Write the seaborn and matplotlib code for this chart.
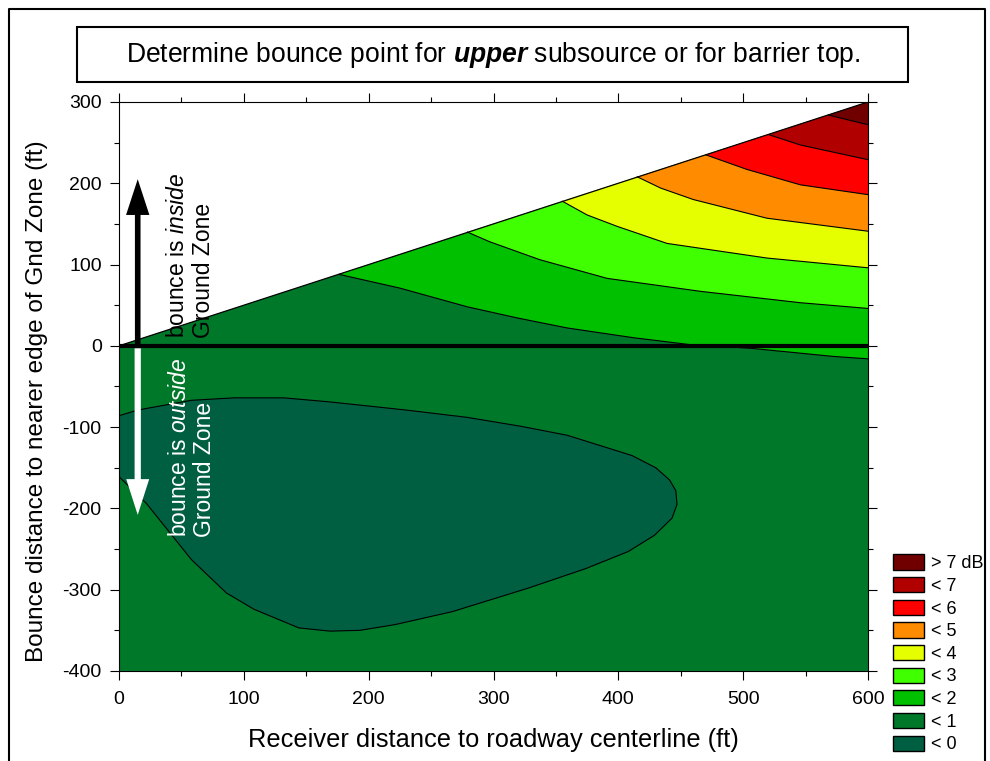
import matplotlib
matplotlib.use("Agg")
import matplotlib.pyplot as plt
from matplotlib.patches import Patch, Rectangle
from matplotlib.lines import Line2D
from matplotlib.ticker import MultipleLocator
import seaborn as sns

# contour levels (dB) and colours, from the legend
level_labels = ["> 7 dB", "< 7", "< 6", "< 5", "< 4", "< 3", "< 2", "< 1", "< 0"]
level_colors = ["#700000", "#B00000", "#FF0000", "#FF8C00", "#E5FF00",
                "#40FF00", "#00C000", "#00782A", "#005F40"]

# upper limit of the plotted region (bounce distance = receiver distance / 2)
edge_x = [0, 600]
edge_y = [0, 300]

# contour boundaries (receiver ft, bounce ft)
b1_x = [176, 225, 279, 320, 359, 412, 460, 506, 572, 600]
b1_y = [88, 71, 48, 34, 22, 10, 1, -3, -13, -16]
b2_x = [279, 297, 337, 391, 466, 546, 600]
b2_y = [140, 128, 106, 83, 67, 53, 46]
b3_x = [355, 375, 399, 439, 519, 600]
b3_y = [178, 161, 147, 126, 108, 96]
b4_x = [415, 434, 460, 519, 600]
b4_y = [208, 194, 180, 157, 141]
b5_x = [470, 503, 546, 600]
b5_y = [235, 217, 198, 186]
b6_x = [520, 546, 600]
b6_y = [260, 247, 229]
b7_x = [568, 600]
b7_y = [284, 272]

# closed "< 0" region
blob_x = [0, 15, 58, 92, 132, 169, 230, 279, 322, 359, 411, 430, 441, 446,
          447, 443, 429, 408, 374, 328, 267, 221, 193, 169, 144, 108, 86,
          58, 22, 0]
blob_y = [-86, -79, -67, -64, -64, -69, -79, -88, -99, -110, -135, -150,
          -165, -178, -195, -212, -233, -253, -274, -298, -327, -343, -350,
          -351, -347, -324, -304, -263, -194, -161]

sns.set_style("ticks")
plt.rcParams['font.family'] = ['Liberation Sans', 'DejaVu Sans']
plt.rcParams['text.color'] = 'black'
plt.rcParams['axes.labelcolor'] = 'black'
plt.rcParams['xtick.color'] = 'black'
plt.rcParams['ytick.color'] = 'black'
plt.rcParams['axes.unicode_minus'] = False
plt.rcParams['mathtext.fontset'] = 'custom'
plt.rcParams['mathtext.rm'] = 'Liberation Sans'
plt.rcParams['mathtext.it'] = 'Liberation Sans:italic'
plt.rcParams['mathtext.bf'] = 'Liberation Sans:bold'
plt.rcParams['mathtext.bfit'] = 'Liberation Sans:italic:bold'

fig = plt.figure(figsize=(9.9, 7.61), dpi=100)
ax = fig.add_axes([0.1202, 0.1183, 0.7566, 0.7477])

# background band (< 1) under the edge line
ax.fill([0, 600, 600, 0], [-400, -400, 300, 0], color=level_colors[7], lw=0, zorder=1)

bounds = [(b1_x, b1_y), (b2_x, b2_y), (b3_x, b3_y), (b4_x, b4_y),
          (b5_x, b5_y), (b6_x, b6_y), (b7_x, b7_y)]
for i, (bx, by) in enumerate(bounds):
    ax.fill(bx + [600], by + [300], color=level_colors[6 - i], lw=0, zorder=1)
ax.fill(blob_x, blob_y, color=level_colors[8], lw=0, zorder=1)

# contour lines
for bx, by in bounds + [(blob_x + [blob_x[0]], blob_y + [blob_y[0]])]:
    sns.lineplot(x=bx, y=by, sort=False, estimator=None, color='black',
                 lw=0.8, ax=ax, zorder=2)
sns.lineplot(x=edge_x, y=edge_y, sort=False, estimator=None, color='black',
             lw=0.9, ax=ax, zorder=2)
ax.plot([0, 0], [0, 150], color='black', lw=1.4, zorder=3)

# ground zone edge
ax.axhline(0, xmin=0, xmax=1, color='black', lw=3, zorder=4)

# arrows
ax.arrow(15, -5, 0, 210, width=4.5, head_width=18.7, head_length=44,
         length_includes_head=True, fc='black', ec='black', lw=0, zorder=5)
ax.arrow(15, -3, 0, -205, width=5, head_width=18.4, head_length=44,
         length_includes_head=True, fc='white', ec='white', lw=0, zorder=5)

ax.text(38, 10, "bounce is $\\it{inside}$\nGround Zone", rotation=90,
        ha='left', va='bottom', multialignment='left', fontsize=16.5,
        linespacing=1.12, color='black', zorder=6)
ax.text(39, -235, "bounce is $\\it{outside}$\nGround Zone", rotation=90,
        ha='left', va='bottom', multialignment='left', fontsize=16.5,
        linespacing=1.12, color='white', zorder=6)

ax.set_xlim(0, 600)
ax.set_ylim(-400, 300)
ax.set_xticks(range(0, 601, 100))
ax.set_yticks(range(-400, 301, 100))
ax.xaxis.set_minor_locator(MultipleLocator(50))
ax.yaxis.set_minor_locator(MultipleLocator(50))
ax.tick_params(which='both', direction='out', top=True, right=True,
               labeltop=False, labelright=False, width=0.8, color='black')
ax.tick_params(which='major', length=6.5, labelsize=14)
ax.tick_params(axis='x', which='major', pad=8)
ax.tick_params(axis='y', which='major', pad=6)
ax.tick_params(which='minor', length=3.5)
for s in ax.spines.values():
    s.set_color('black')
    s.set_linewidth(0.8)
    s.set_zorder(7)

ax.set_xlabel("Receiver distance to roadway centerline (ft)", fontsize=18.3)
ax.set_ylabel("Bounce distance to nearer edge of Gnd Zone (ft)", fontsize=17.5)
ax.xaxis.set_label_coords(0.5, -0.100)
ax.yaxis.set_label_coords(-0.095, 0.4745)

# legend
handles = [Patch(facecolor=c, edgecolor='black', lw=1.0) for c in level_colors]
fig.legend(handles, level_labels, loc='upper left',
           bbox_to_anchor=(0.902, 0.2714), frameon=False, fontsize=13,
           handlelength=1.72, handleheight=0.91, handletextpad=0.4,
           labelspacing=0.27, borderpad=0, borderaxespad=0)

# title box
fig.add_artist(Rectangle((77 / 990, 1 - 82 / 761), 831 / 990, 55 / 761,
                         transform=fig.transFigure, fill=False,
                         ec='black', lw=1.5))
fig.text(493 / 990, 1 - 54.5 / 761,
         "Determine bounce point for $\\bfit{upper}$ subsource or for barrier top.",
         ha='center', va='center', fontsize=19.1)

# outer frame
fig.add_artist(Line2D([8.5 / 990, 8.5 / 990, 985 / 990, 985 / 990],
                      [0, 1 - 8.5 / 761, 1 - 8.5 / 761, 0],
                      transform=fig.transFigure, color='black', lw=1.5))

fig.savefig("out.png", dpi=100)
